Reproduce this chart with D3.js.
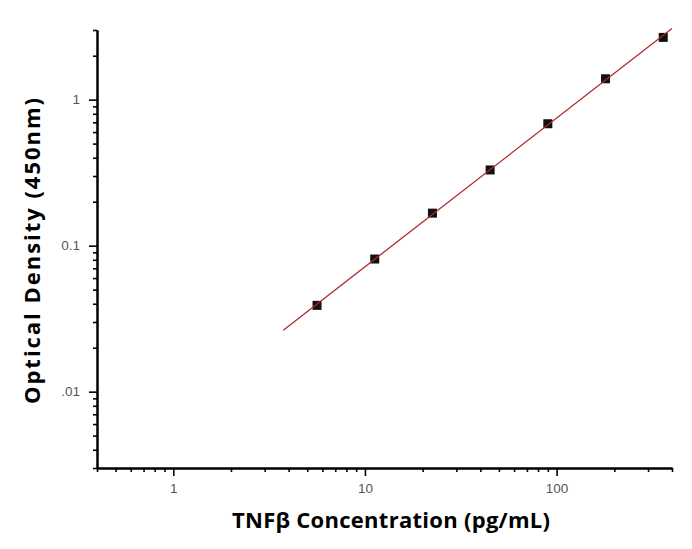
<!DOCTYPE html>
<html>
<head>
<meta charset="utf-8">
<script src="https://cdn.jsdelivr.net/npm/d3@7"></script>
<style>
  body { margin: 0; background: #fff; }
  .tick text { font-family: "Liberation Sans", Arial, sans-serif; font-size: 13.5px; fill: #55555f; }
  .title { font-family: "Open Sans", "Noto Sans", sans-serif; font-weight: bold; font-size: 22px; fill: #000; }
</style>
</head>
<body>
<div id="graph"></div>
<script>
// standard curve data
var concentration = [5.625, 11.25, 22.5, 45, 90, 180, 360];
var opticalDensity = [0.039, 0.081, 0.167, 0.330, 0.684, 1.39, 2.67];
var fitRange = [3.75, 400];

var xMajor = [1, 10, 100];
var xMajorLabels = ["1", "10", "100"];
var yMajor = [0.01, 0.1, 1];
var yMajorLabels = [".01", "0.1", "1"];

var width = 692, height = 549;
var margin = {top: 30, right: 20, bottom: 81, left: 97};

var svg = d3.select("#graph")
  .append("svg")
    .attr("width", width)
    .attr("height", height);

var g = svg.append("g")
    .attr("transform", "translate(" + margin.left + "," + margin.top + ")");

var w = 672 - margin.left,
    h = 468 - margin.top;

var x = d3.scaleLog().domain([0.4, 400]).range([0, w]);
var y = d3.scaleLog().domain([0.003, 3]).range([h, 0]);

// minor ticks 2..9 of each decade, kept inside the domain
function minorTicks(scale) {
  var d = scale.domain(), out = [];
  for (var e = -4; e <= 4; e++) {
    for (var m = 2; m <= 9; m++) {
      var v = m * Math.pow(10, e);
      if (v >= d[0] * 0.999 && v <= d[1] * 1.001) out.push(v);
    }
  }
  return out;
}

function styleAxis(sel) {
  sel.select(".domain").attr("stroke", "#000").attr("stroke-width", 2);
  sel.selectAll(".tick line").attr("stroke", "#000").attr("stroke-width", 1.6);
}

// X axis
g.append("g")
  .attr("transform", "translate(0," + h + ")")
  .call(d3.axisBottom(x).tickValues(minorTicks(x)).tickSize(4).tickSizeOuter(0).tickFormat(""))
  .call(styleAxis);
g.append("g")
  .attr("transform", "translate(0," + h + ")")
  .call(d3.axisBottom(x).tickValues(xMajor).tickSize(8).tickSizeOuter(0).tickPadding(7)
    .tickFormat(function(d, i) { return xMajorLabels[i]; }))
  .call(styleAxis);

// Y axis
g.append("g")
  .call(d3.axisLeft(y).tickValues(minorTicks(y)).tickSize(4).tickSizeOuter(0).tickFormat(""))
  .call(styleAxis);
g.append("g")
  .call(d3.axisLeft(y).tickValues(yMajor).tickSize(8).tickSizeOuter(0).tickPadding(9)
    .tickFormat(function(d, i) { return yMajorLabels[i]; }))
  .call(styleAxis);

// linear regression in log-log space
var lx = concentration.map(function(d) { return Math.log10(d); });
var ly = opticalDensity.map(function(d) { return Math.log10(d); });
var mx = d3.mean(lx), my = d3.mean(ly);
var slope = d3.sum(lx, function(d, i) { return (d - mx) * (ly[i] - my); }) /
            d3.sum(lx, function(d) { return (d - mx) * (d - mx); });
var icpt = my - slope * mx;
var fitLine = fitRange.map(function(c) {
  return {c: c, od: Math.pow(10, icpt + slope * Math.log10(c))};
});

// points
g.selectAll("rect.pt")
  .data(concentration)
  .enter().append("rect")
    .attr("class", "pt")
    .attr("x", function(d) { return x(d) - 4.5; })
    .attr("y", function(d, i) { return y(opticalDensity[i]) - 4.5; })
    .attr("width", 9)
    .attr("height", 9)
    .attr("fill", "#111");

// fit line drawn over the points
g.append("path")
  .datum(fitLine)
  .attr("fill", "none")
  .attr("stroke", "#b0282c")
  .attr("stroke-width", 1.3)
  .attr("d", d3.line()
    .x(function(d) { return x(d.c); })
    .y(function(d) { return y(d.od); }));

// axis titles
svg.append("text")
  .attr("class", "title")
  .attr("x", 391)
  .attr("y", 528)
  .attr("text-anchor", "middle")
  .attr("textLength", 318)
  .attr("lengthAdjust", "spacing")
  .text("TNFβ Concentration (pg/mL)");

svg.append("text")
  .attr("class", "title")
  .attr("transform", "translate(40,251) rotate(-90)")
  .attr("text-anchor", "middle")
  .attr("textLength", 306)
  .attr("lengthAdjust", "spacing")
  .text("Optical Density (450nm)");
</script>
</body>
</html>
